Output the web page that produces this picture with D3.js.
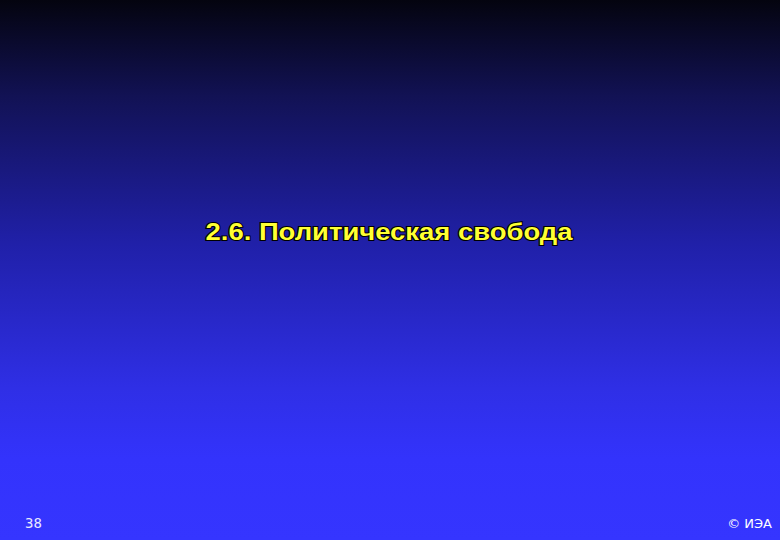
<!DOCTYPE html>
<html><head><meta charset="utf-8">
<script src="https://cdn.jsdelivr.net/npm/d3@7"></script>
<style>html,body{margin:0;padding:0;background:#000;}svg{display:block;}</style>
</head><body>
<script>
const title = ["2.6. Политическая свобода"];
const pageNumber = ["38"];
const copyright = ["© ИЭА"];

const W = 780, H = 540;
const svg = d3.select("body").append("svg").attr("width", W).attr("height", H);
const defs = svg.append("defs");
const grad = defs.append("linearGradient").attr("id", "bg").attr("x1", 0).attr("y1", 0).attr("x2", 0).attr("y2", 1);
[[0, "#04040f"], [0.18, "#121255"], [0.45, "#2020a8"], [0.72, "#2f2fe6"], [0.85, "#3333fc"], [1, "#3535ff"]]
  .forEach(([o, c]) => grad.append("stop").attr("offset", o).attr("stop-color", c));
svg.append("rect").attr("width", W).attr("height", H).attr("fill", "url(#bg)");

const t = svg.selectAll("g.title").data(title).enter().append("g").attr("class", "title");
t.append("text").attr("x", 389).attr("y", 240).attr("text-anchor", "middle")
  .attr("font-family", "Liberation Sans, Arial, sans-serif").attr("font-weight", "bold")
  .attr("font-size", 23.5).attr("fill", "#ffff33")
  .attr("stroke", "#000").attr("stroke-width", 2).attr("paint-order", "stroke")
  .attr("textLength", 367).attr("lengthAdjust", "spacingAndGlyphs")
  .text(d => d);

svg.selectAll("text.pg").data(pageNumber).enter().append("text").attr("class", "pg")
  .attr("x", 25).attr("y", 528).attr("font-family", "DejaVu Sans Mono, monospace")
  .attr("font-size", 14).attr("fill", "#e8e8ff").text(d => d);

svg.selectAll("text.cr").data(copyright).enter().append("text").attr("class", "cr")
  .attr("x", 772).attr("y", 528).attr("text-anchor", "end")
  .attr("font-family", "DejaVu Sans, sans-serif")
  .attr("font-size", 13).attr("fill", "#ffffff").text(d => d);
</script>
</body></html>
